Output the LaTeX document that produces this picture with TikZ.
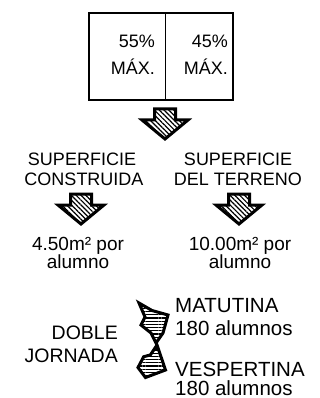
\documentclass[tikz,border=0pt]{standalone}
\usepackage{fontspec}
\setmainfont{Liberation Sans}
\usetikzlibrary{patterns.meta}
\begin{document}
\begin{tikzpicture}[x=1pt,y=-1pt,
  lbl/.style={inner sep=0pt,font=\fontsize{18}{20}\selectfont},
  lblm/.style={inner sep=0pt,font=\fontsize{19}{21}\selectfont},
  lblb/.style={inner sep=0pt,font=\fontsize{20.5}{22}\selectfont},
  lbld/.style={inner sep=0pt,font=\fontsize{19.5}{22}\selectfont},
  outline/.style={line width=3pt,line join=miter,miter limit=4},
  diaghatch/.style={pattern={Lines[angle=-45,distance=3.4pt,line width=1.2pt]}},
  horhatch/.style={pattern={Lines[angle=0,distance=3.2pt,line width=1.1pt]}},
  downarrow/.pic={
    \fill[white] (-10.5,0) -- (10.5,0) -- (10.5,11) -- (23,11) -- (0,30) -- (-23,11) -- (-10.5,11) -- cycle;
    \path[diaghatch] (-10.5,0) -- (10.5,0) -- (10.5,11) -- (23,11) -- (0,30) -- (-23,11) -- (-10.5,11) -- cycle;
    \draw[outline] (-10.5,0) -- (10.5,0) -- (10.5,11) -- (23,11) -- (0,30) -- (-23,11) -- (-10.5,11) -- cycle;
  }]
\useasboundingbox (0,0) rectangle (320,398);
% top box
\draw[line width=2pt] (89,13) rectangle (233,100);
\draw[line width=0.8pt] (165,13) -- (165,100);
\node[lbl,anchor=base east] (p55) at (155,48) {55\%};
\node[lbl,anchor=base east] (m55) at (155,75) {MÁX.};
\node[lbl,anchor=base east] (p45) at (228,48) {45\%};
\node[lbl,anchor=base east] (m45) at (228,75) {MÁX.};
% arrows
\pic at (165,109) {downarrow};
\pic at (81,194) {downarrow};
\pic at (239,194) {downarrow};
% middle texts
\node[lbl,anchor=base] (s1) at (82,165) {SUPERFICIE};
\node[lbl,anchor=base] (c1) at (84,185) {CONSTRUIDA};
\node[lbl,anchor=base] (s2) at (238,165) {SUPERFICIE};
\node[lbl,anchor=base] (c2) at (238,185) {DEL TERRENO};
\node[lblm,anchor=base] (a1) at (78,250) {4.50m² por};
\node[lblm,anchor=base] (b1) at (78,268) {alumno};
\node[lblm,anchor=base] (a2) at (240,250) {10.00m² por};
\node[lblm,anchor=base] (b2) at (240,268) {alumno};
% bottom
\node[lbld,anchor=base east] (d1) at (118,339) {DOBLE};
\node[lbld,anchor=base east] (d2) at (118,362) {JORNADA};
\node[lblb,anchor=base west] (t1) at (175,312) {MATUTINA};
\node[lblb,anchor=base west] (t2) at (175,335) {180 alumnos};
\node[lblb,anchor=base west] (t3) at (175,376) {VESPERTINA};
\node[lblb,anchor=base west] (t4) at (175,395) {180 alumnos};
% bottom arrows
\def\upshape{(139,303) -- (152,310.5) -- (168,315) -- (163,333) -- (156,343) -- (151,333) -- (141,325) -- (145,317) -- cycle}
\def\loshape{(157,345) -- (165.5,370) -- (145.5,377.5) -- (138,367.5) -- (143.7,356.7) -- (150.3,355) -- (153.7,350) -- cycle}
\fill[white] \upshape;
\path[horhatch] \upshape;
\draw[outline] \upshape;
\fill[white] \loshape;
\path[horhatch] \loshape;
\draw[outline] \loshape;
\end{tikzpicture}
\end{document}
